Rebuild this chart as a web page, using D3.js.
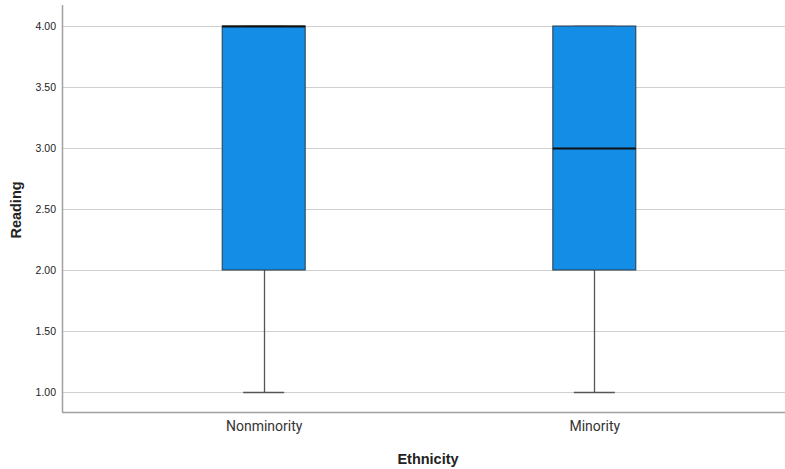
<!DOCTYPE html>
<html><head><meta charset="utf-8">
<script src="https://cdn.jsdelivr.net/npm/d3@7"></script>
<style>body{margin:0;background:#fff}svg{display:block}</style>
</head><body>
<svg id="c" width="785" height="469"></svg>
<script>
const categories = ["Nonminority", "Minority"];
const whiskerLow = [1, 1];
const q1 = [2, 2];
const median = [4, 3];
const q3 = [4, 4];
const whiskerHigh = [4, 4];
const yTicks = [1.0, 1.5, 2.0, 2.5, 3.0, 3.5, 4.0];

(function () {
const svg = d3.select("#c");
const mLeft = 62, mBottom = 412, mTop = 5, mRight = 785;
const y = d3.scaleLinear().domain([1, 4]).range([392, 26]);
const x = d3.scalePoint().domain(categories).range([mLeft, 796]).padding(0.61);
const boxW = 83, capW = 41;

// gridlines
svg.append("g").selectAll("line").data(yTicks).join("line")
  .attr("x1", mLeft).attr("x2", mRight)
  .attr("y1", d => Math.round(y(d)) + 0.5).attr("y2", d => Math.round(y(d)) + 0.5)
  .attr("stroke", "#cfcfcf").attr("stroke-width", 1.2);

// y axis
const ya = svg.append("g").attr("transform", `translate(${mLeft},0)`)
  .call(d3.axisLeft(y).tickValues(yTicks).tickFormat(d3.format(".2f")).tickSize(0).tickPadding(6));
ya.select(".domain").remove();
ya.selectAll("text").attr("font-family", "Liberation Sans, Arial, sans-serif").attr("font-size", 10.5).attr("fill", "#222");

// frame
svg.append("line").attr("x1", mLeft + 0.5).attr("x2", mLeft + 0.5).attr("y1", mTop).attr("y2", mBottom)
  .attr("stroke", "#a0a0a0").attr("stroke-width", 1.5);
svg.append("line").attr("x1", mLeft).attr("x2", mRight).attr("y1", mBottom + 0.5).attr("y2", mBottom + 0.5)
  .attr("stroke", "#a0a0a0").attr("stroke-width", 1.5);

// x axis labels
const xa = svg.append("g").attr("transform", `translate(0,${mBottom})`)
  .call(d3.axisBottom(x).tickSize(0).tickPadding(9));
xa.select(".domain").remove();
xa.selectAll("text").attr("font-family", "Roboto, Liberation Sans, sans-serif").attr("font-size", 14).attr("fill", "#333");

const idx = d3.range(categories.length);
const g = svg.append("g");
g.selectAll(".wl").data(idx).join("line")
  .attr("x1", i => Math.round(x(categories[i])) + 0.5).attr("x2", i => Math.round(x(categories[i])) + 0.5)
  .attr("y1", i => y(whiskerLow[i])).attr("y2", i => y(q1[i]))
  .attr("stroke", "#555").attr("stroke-width", 1.3);
g.selectAll(".wh").data(idx).join("line")
  .attr("x1", i => Math.round(x(categories[i])) + 0.5).attr("x2", i => Math.round(x(categories[i])) + 0.5)
  .attr("y1", i => y(whiskerHigh[i])).attr("y2", i => y(q3[i]))
  .attr("stroke", "#555").attr("stroke-width", 1.3);
g.selectAll(".cl").data(idx).join("line")
  .attr("x1", i => x(categories[i]) - capW / 2).attr("x2", i => x(categories[i]) + capW / 2)
  .attr("y1", i => y(whiskerLow[i]) + 0.5).attr("y2", i => y(whiskerLow[i]) + 0.5)
  .attr("stroke", "#555").attr("stroke-width", 1.5);
g.selectAll(".ch").data(idx).join("line")
  .attr("x1", i => x(categories[i]) - capW / 2).attr("x2", i => x(categories[i]) + capW / 2)
  .attr("y1", i => y(whiskerHigh[i]) + 0.5).attr("y2", i => y(whiskerHigh[i]) + 0.5)
  .attr("stroke", "#555").attr("stroke-width", 1.5);
g.selectAll("rect").data(idx).join("rect")
  .attr("x", i => x(categories[i]) - boxW / 2).attr("width", boxW)
  .attr("y", i => y(q3[i])).attr("height", i => y(q1[i]) - y(q3[i]))
  .attr("fill", "#138de6").attr("stroke", "#2a3a48").attr("stroke-width", 1);
g.selectAll(".med").data(idx).join("line")
  .attr("x1", i => x(categories[i]) - boxW / 2).attr("x2", i => x(categories[i]) + boxW / 2)
  .attr("y1", i => y(median[i]) + 0.5).attr("y2", i => y(median[i]) + 0.5)
  .attr("stroke", "#111").attr("stroke-width", 2);

svg.append("text").attr("x", 428).attr("y", 464).attr("text-anchor", "middle")
  .attr("font-family", "Liberation Sans, Arial, sans-serif").attr("font-weight", "bold").attr("font-size", 14.5).attr("fill", "#222")
  .text("Ethnicity");
svg.append("text").attr("transform", "translate(21,210) rotate(-90)").attr("text-anchor", "middle")
  .attr("font-family", "Liberation Sans, Arial, sans-serif").attr("font-weight", "bold").attr("font-size", 14.5).attr("fill", "#222")
  .text("Reading");
})();
</script>
</body></html>
